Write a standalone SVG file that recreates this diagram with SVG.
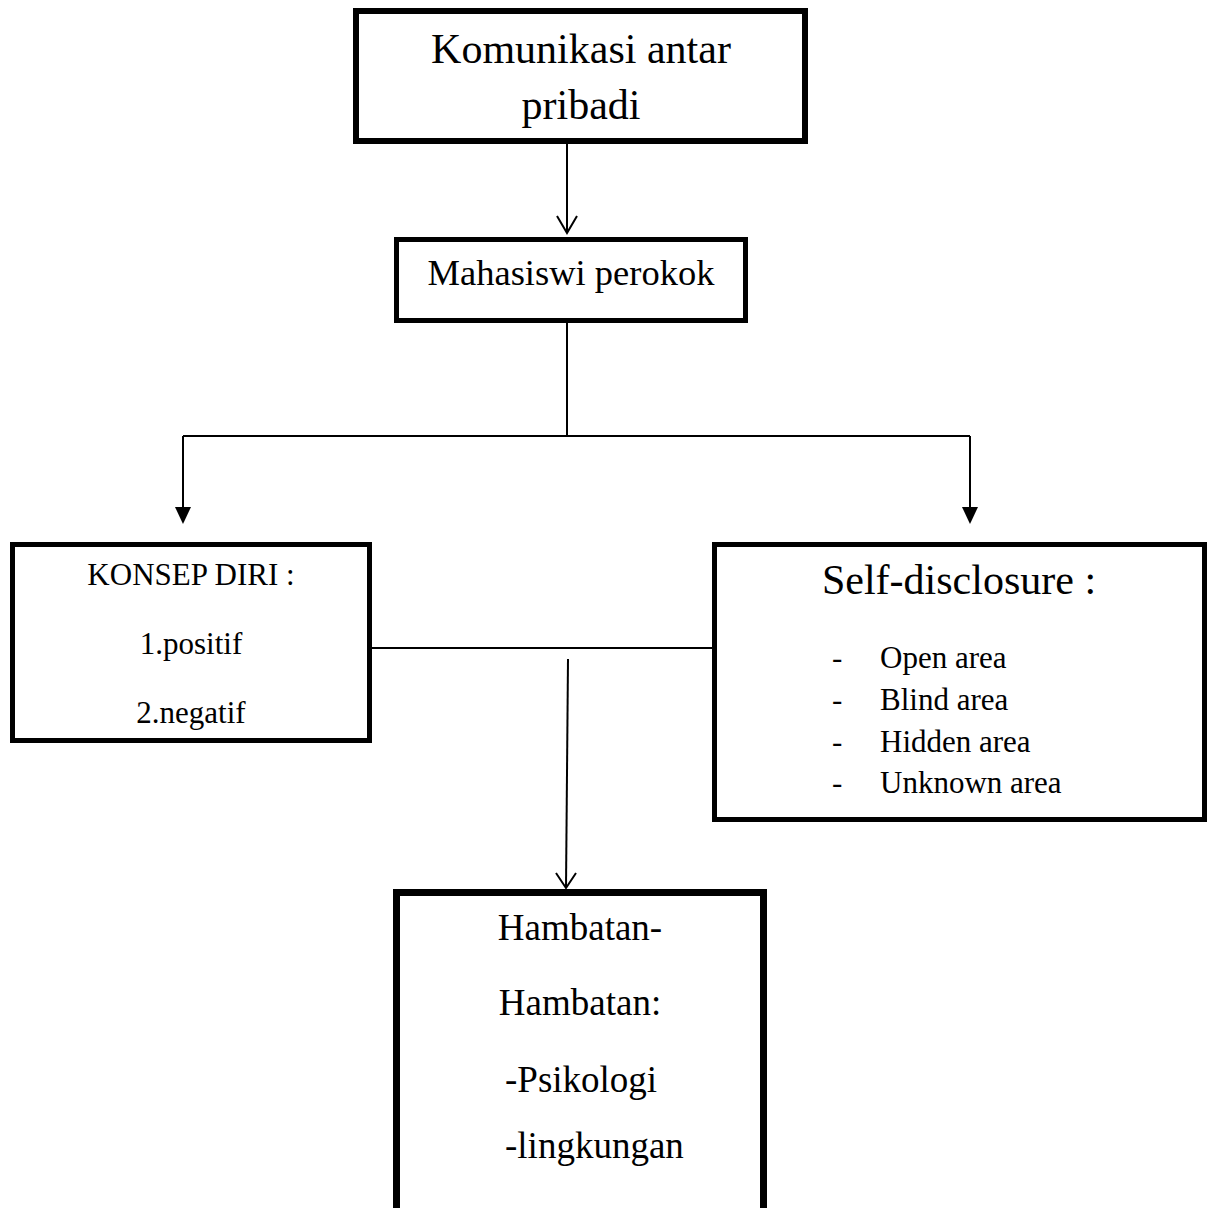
<svg xmlns="http://www.w3.org/2000/svg" width="1208" height="1208" viewBox="0 0 1208 1208">
<defs>
<style>
.box{fill:#fff;stroke:#000}
.t{font-family:"Liberation Serif","Times New Roman",serif;fill:#000}
.c{text-anchor:middle}
.ln{fill:none;stroke:#000;stroke-width:2}
</style>
<marker id="filled" markerWidth="18" markerHeight="16" refX="1" refY="8" orient="auto" markerUnits="userSpaceOnUse" viewBox="0 0 18 16">
<path d="M0,0 L17,8 L0,16 Z" fill="#000"/>
</marker>
</defs>
<rect width="1208" height="1208" fill="#fff"/>
<g id="connectors">
<line class="ln" x1="567" y1="144" x2="567" y2="233"/>
<path class="ln" d="M557,216 L567,233 L577,216" stroke-width="2.5"/>
<polyline class="ln" points="567,323 567,436"/>
<line class="ln" x1="183" y1="436" x2="970" y2="436"/>
<line class="ln" x1="183" y1="436" x2="183" y2="508" marker-end="url(#filled)"/>
<line class="ln" x1="970" y1="436" x2="970" y2="508" marker-end="url(#filled)"/>
<line class="ln" x1="372" y1="648" x2="712" y2="648"/>
<line class="ln" x1="568" y1="659" x2="566" y2="888"/>
<path class="ln" d="M556,873 L566,888 L576,873" stroke-width="2.5"/>
</g>
<g id="node-komunikasi">
<rect class="box" x="356" y="11" width="449" height="130" stroke-width="6"/>
<text class="t c" x="581" y="63" font-size="42">Komunikasi antar</text>
<text class="t c" x="581" y="119" font-size="42">pribadi</text>
</g>
<g id="node-mahasiswi">
<rect class="box" x="396.5" y="239.5" width="349" height="81" stroke-width="5"/>
<text class="t c" x="571" y="285" font-size="36.5">Mahasiswi perokok</text>
</g>
<g id="node-konsep">
<rect class="box" x="12.5" y="544.5" width="357" height="196" stroke-width="5"/>
<text class="t c" x="191" y="585" font-size="31">KONSEP DIRI :</text>
<text class="t c" x="191" y="654" font-size="31">1.positif</text>
<text class="t c" x="191" y="723" font-size="31">2.negatif</text>
</g>
<g id="node-self">
<rect class="box" x="714.5" y="544.5" width="490" height="275" stroke-width="5"/>
<text class="t c" x="959" y="594" font-size="42">Self-disclosure :</text>
<g class="t" font-size="31">
<text x="832" y="668">-</text><text x="880" y="668">Open area</text>
<text x="832" y="710">-</text><text x="880" y="710">Blind area</text>
<text x="832" y="752">-</text><text x="880" y="752">Hidden area</text>
<text x="832" y="793">-</text><text x="880" y="793">Unknown area</text>
</g>
</g>
<g id="node-hambatan">
<rect class="box" x="396.5" y="892.5" width="367" height="330" stroke-width="7"/>
<text class="t c" x="580" y="940" font-size="37">Hambatan-</text>
<text class="t c" x="580" y="1015" font-size="37">Hambatan:</text>
<text class="t" x="505" y="1092" font-size="37">-Psikologi</text>
<text class="t" x="505" y="1158" font-size="37">-lingkungan</text>
</g>
</svg>
